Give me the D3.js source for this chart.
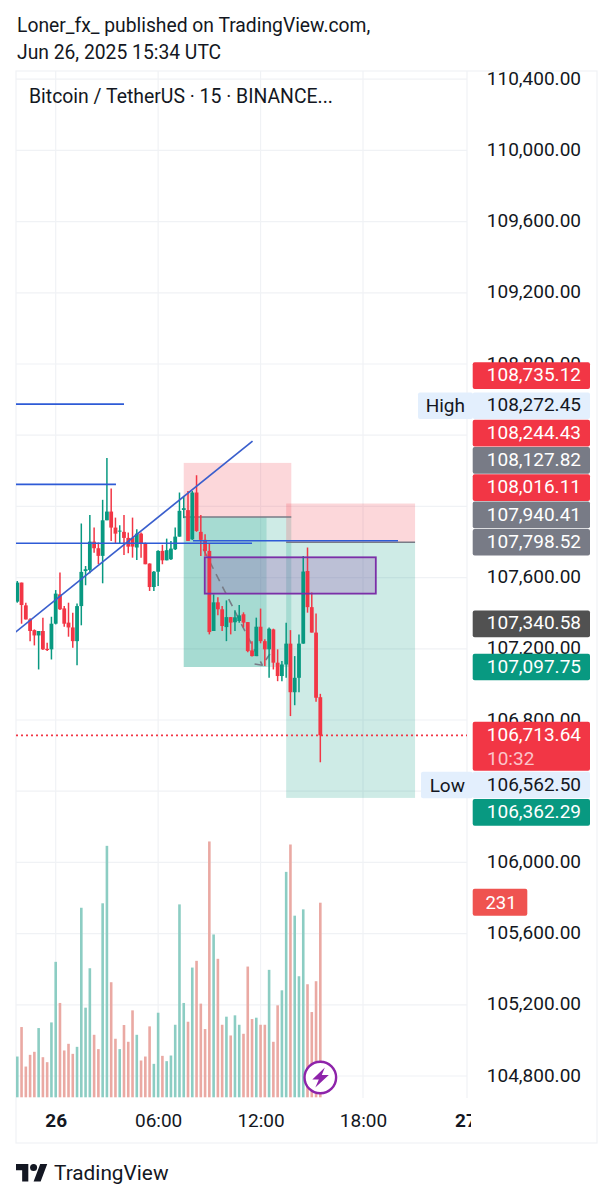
<!DOCTYPE html>
<html><head><meta charset="utf-8">
<script src="https://cdnjs.cloudflare.com/ajax/libs/d3/7.8.5/d3.min.js"></script>
<style>html,body{margin:0;padding:0;background:#fff}svg{display:block}text{font-family:Roboto,sans-serif}</style>
</head><body><svg id="c" width="613" height="1200"></svg>
<script>
// ---- data ----
const firstBarHour = -2.25, barHours = 0.25;
const opens  = [107465,107572,107444,107365,107305,107275,107300,107200,107197,107341,107506,107427,107347,107320,107243,107440,107637,107643,107802,107765,107722,107922,107971,107881,107859,107857,107823,107823,107769,107847,107791,107679,107547,107633,107750,107697,107703,107759,107830,107980,107979,107815,108078,107857,107812,107750,107300,107461,107422,107322,107378,107349,107356,107394,107350,107191,107159,107324,107243,107197,107309,107122,107047,107112,107229,106956,107037,107229,107637,107434,107291,106928];
const closes = [107572,107446,107365,107300,107275,107300,107197,107193,107341,107510,107422,107341,107320,107243,107440,107632,107647,107802,107765,107722,107922,107971,107881,107847,107864,107823,107774,107774,107847,107791,107675,107547,107633,107750,107697,107754,107763,107830,107975,107990,107806,108078,107862,107812,107750,107294,107461,107422,107328,107378,107347,107377,107388,107347,107187,107159,107324,107243,107197,107313,107122,107047,107112,107229,106956,107037,107229,107634,107434,107291,106925,106713.64];
const highs  = [107581,107572,107459,107371,107309,107300,107375,107234,107380,107530,107628,107440,107459,107403,107455,107904,107665,107952,107881,107797,108037,108272.45,108100,107937,107894,107952,107853,107937,107872,107853,107797,107680,107637,107754,107784,107819,107806,107881,108078,108059,108087,108087,108175,107952,107844,107793,107506,107489,107440,107472,107378,107416,107446,107405,107350,107243,107375,107426,107253,107319,107313,107197,107131,107347,107305,107159,107281,107722,107769,107516,107399,106947];
const lows   = [107459,107341,107365,107243,107219,107084,107193,107187,107140,107337,107418,107324,107268,107206,107108,107332,107557,107624,107740,107675,107568,107922,107806,107791,107791,107727,107737,107712,107699,107712,107675,107525,107525,107553,107675,107697,107699,107755,107830,107934,107806,107812,107857,107722,107722,107281,107300,107388,107300,107243,107281,107300,107347,107320,107180,107157,107159,107231,107103,107037,107084,107018,107018,107037,106822,106883,106956,107229,107403,107291,106902,106562.5];
const volumes = [48.4,83.4,36.5,50.4,54,82.2,47.6,41.7,88.9,160.8,112,55.6,63.5,51.6,59.9,225,106.4,153.2,74.2,57.2,230.3,298.5,136.6,69.5,57.2,85.8,65.9,103.2,74.2,43.7,48.4,84.2,39.7,100.4,49.2,42.9,49.6,86.1,229,112,89.7,154,162,111.2,81,303.7,193.3,164.4,86.1,95.7,73.4,97.3,86.1,75.4,155.2,92.9,94.5,86.1,86.1,151.3,65.9,109.2,127,267.6,300.1,215.6,143.7,223.1,134.2,101.2,137.8,231];
const gridPrices = [110400,110000,109600,109200,108800,108400,108000,107600,107200,106800,106400,106000,105600,105200,104800];
const axisPrices = [110400,110000,109600,109200,108800,107600,107200,106800,106000,105600,105200,104800];
const timeTicks = [0,6,12,18,24];
const timeLabels = ["26","06:00","12:00","18:00","27"];
const boldTimes = [0,24];
const hlineHours  = [[-2.4,4.0],[-2.4,3.53],[-2.4,11.5],[8.04,20.05]];
const hlinePrices = [108575,108124,107793,107807];
const trendHours = [-2.4,11.53];
const trendPrices = [107290,108367];
const zoneHours = [[7.5,13.8],[7.5,13.8],[7.5,12.35],[13.5,21.05],[13.5,21.05]];
const zoneTops = [108244.43,107940.41,107940.41,108016.11,107798.52];
const zoneBottoms = [107940.41,107097.75,107097.75,107798.52,106362.29];
const zoneKinds = ["stop","target","target","stop","target"];
const entryLinePrices = [107940.41,107798.52];
const entryLineHours = [[7.5,13.8],[13.5,21.05]];
const boxHours = [8.73,18.75];
const boxPrices = [107714,107510];
const zigHours = [[8.65,12.1],[11.65,12.1,12.55]];
const zigPrices = [[107760,107108],[107115,107108,107171]];
const tagPrices = [108735.12,108272.45,108244.43,108127.82,108016.11,107940.41,107798.52,107340.58,107097.75,106713.64,106562.50,106362.29];
const tagKinds  = ["red","pale","red","gray","red","gray","gray","dark","teal","last","pale","teal"];
const paleNames = {"108272.45":"High","106562.5":"Low"};
const lastPrice = 106713.64, countdown = "10:32", lastVolume = 231;

// ---- scales ----
const svg = d3.select("#c");
const x = d3.scaleLinear().domain([0,18]).range([55.7,363]);
const y = d3.scaleLinear().domain([104800,110000]).range([1076,150.4]);
const v = d3.scaleLinear().domain([0,lastVolume]).range([1097.3,902.7]);
const L=16,R=467,T=71,B=1098,RB=597,BB=1143;
const GRID="#F0F2F5",TEXT="#131722",UP="#089981",DN="#F23645";
const barHour = i => firstBarHour + i*barHours;
const fmt = d3.format(",.2f");

svg.append("defs").append("clipPath").attr("id","plot").append("rect").attr("x",L).attr("y",T).attr("width",R-L).attr("height",B-T);
svg.append("defs").append("clipPath").attr("id","timeclip").append("rect").attr("x",L).attr("y",B).attr("width",R+4-L).attr("height",BB-B);

// header
svg.append("text").attr("x",17).attr("y",31.5).attr("font-size",19.3).attr("fill",TEXT).text("Loner_fx_ published on TradingView.com,");
svg.append("text").attr("x",17).attr("y",58.5).attr("font-size",19.3).attr("fill",TEXT).text("Jun 26, 2025 15:34 UTC");

// frame & grid
const gg = svg.append("g").attr("stroke",GRID).attr("stroke-width",1.2);
gg.selectAll(".h").data(gridPrices).join("line").attr("x1",L).attr("x2",R).attr("y1",d=>y(d)).attr("y2",d=>y(d));
gg.selectAll(".v").data(timeTicks.slice(0,4)).join("line").attr("x1",d=>x(d)).attr("x2",d=>x(d)).attr("y1",T).attr("y2",B);
svg.append("rect").attr("x",L).attr("y",T).attr("width",RB-L).attr("height",BB-T).attr("fill","none").attr("stroke",GRID).attr("stroke-width",1.2);
svg.append("line").attr("x1",R).attr("x2",R).attr("y1",T).attr("y2",B).attr("stroke",GRID).attr("stroke-width",1.2);

const plot = svg.append("g").attr("clip-path","url(#plot)");
// position zones
plot.selectAll(".zone").data(zoneHours).join("rect")
  .attr("x",d=>x(d[0])).attr("width",d=>x(d[1])-x(d[0]))
  .attr("y",(d,i)=>y(zoneTops[i])).attr("height",(d,i)=>y(zoneBottoms[i])-y(zoneTops[i]))
  .attr("fill",(d,i)=>zoneKinds[i]==="stop"?DN:UP).attr("fill-opacity",.2);
// purple box fill
plot.append("rect").attr("x",x(boxHours[0])).attr("width",x(boxHours[1])-x(boxHours[0]))
  .attr("y",y(boxPrices[0])).attr("height",y(boxPrices[1])-y(boxPrices[0])).attr("fill","#8640A6").attr("fill-opacity",.25);
// volumes
plot.selectAll(".vol").data(volumes).join("rect")
  .attr("x",(d,i)=>x(barHour(i))-1.3).attr("width",2.6)
  .attr("y",d=>v(d)).attr("height",d=>v(0)-v(d))
  .attr("fill",(d,i)=>closes[i]>=opens[i]?"#8CCDC3":"#EAA9A3");
// entry lines
plot.selectAll(".entry").data(entryLinePrices).join("line")
  .attr("x1",(d,i)=>x(entryLineHours[i][0])).attr("x2",(d,i)=>x(entryLineHours[i][1]))
  .attr("y1",d=>y(d)).attr("y2",d=>y(d)).attr("stroke","#787B86").attr("stroke-width",1.5);
// zigzag
const lineGen = d3.line();
zigHours.forEach((hs,k)=>{
  plot.append("path").attr("d",lineGen(hs.map((h,i)=>[x(h),y(zigPrices[k][i])])))
   .attr("fill","none").attr("stroke","#787B86").attr("stroke-width",1.6).attr("stroke-dasharray","8 6");
});
// candles
const candle = plot.selectAll(".candle").data(opens).join("g");
candle.append("line").attr("x1",(d,i)=>x(barHour(i))).attr("x2",(d,i)=>x(barHour(i)))
  .attr("y1",(d,i)=>y(highs[i])).attr("y2",(d,i)=>y(lows[i]))
  .attr("stroke",(d,i)=>closes[i]>=opens[i]?UP:DN).attr("stroke-width",1.5);
candle.append("rect").attr("x",(d,i)=>x(barHour(i))-1.9).attr("width",3.8)
  .attr("y",(d,i)=>y(Math.max(opens[i],closes[i])))
  .attr("height",(d,i)=>Math.max(1,Math.abs(y(opens[i])-y(closes[i]))))
  .attr("fill",(d,i)=>closes[i]>=opens[i]?UP:DN);
// blue lines
plot.selectAll(".hl").data(hlinePrices).join("line")
  .attr("x1",(d,i)=>x(hlineHours[i][0])).attr("x2",(d,i)=>x(hlineHours[i][1]))
  .attr("y1",d=>y(d)).attr("y2",d=>y(d)).attr("stroke","#2E5BD6").attr("stroke-width",1.7);
plot.append("path").attr("d",lineGen(trendHours.map((h,i)=>[x(h),y(trendPrices[i])])))
  .attr("fill","none").attr("stroke","#3A5FCD").attr("stroke-width",1.7);
// purple box outline
plot.append("rect").attr("x",x(boxHours[0])).attr("width",x(boxHours[1])-x(boxHours[0]))
  .attr("y",y(boxPrices[0])).attr("height",y(boxPrices[1])-y(boxPrices[0])).attr("fill","none").attr("stroke","#7B2FA8").attr("stroke-width",1.8);
// last price line
plot.append("line").attr("x1",L).attr("x2",R).attr("y1",y(lastPrice)).attr("y2",y(lastPrice))
  .attr("stroke",DN).attr("stroke-width",1.7).attr("stroke-dasharray","2 3");

// legend
svg.append("text").attr("x",29).attr("y",102.5).attr("font-size",19.4).attr("fill",TEXT).text("Bitcoin / TetherUS · 15 · BINANCE...");

// price axis
const yAxis = d3.axisRight(y).tickValues(axisPrices).tickSize(0).tickPadding(0).tickFormat(fmt);
const ax = svg.append("g").attr("transform","translate(581,-1)").call(yAxis);
ax.select(".domain").remove();
ax.selectAll("text").attr("text-anchor","end").attr("font-size",19).attr("font-family","Roboto").attr("fill",TEXT);

// time axis
const xAxis = d3.axisBottom(x).tickValues(timeTicks).tickSize(0).tickPadding(0).tickFormat((d,i)=>timeLabels[i]);
const tx = svg.append("g").attr("clip-path","url(#timeclip)").append("g").attr("transform","translate(0,1113.5)").call(xAxis);
tx.select(".domain").remove();
tx.selectAll("text").attr("font-size",19).attr("font-family","Roboto").attr("fill",TEXT)
  .attr("font-weight",d=>boldTimes.includes(d)?700:400);

// price tags — stacked outward from the last price tag
const TAGH=27.3,LASTH=49,TX=472.7,TW=117.3;
const lastIdx = tagPrices.indexOf(lastPrice);
const tagCentre = tagPrices.map(p=>y(p));
const lastTop = tagCentre[lastIdx]-13.6;
for(let i=lastIdx-1,lim=lastTop;i>=0;i--){tagCentre[i]=Math.min(tagCentre[i],lim-TAGH/2);lim=tagCentre[i]-TAGH/2;}
for(let i=lastIdx+1,lim=lastTop+LASTH+.6;i<tagPrices.length;i++){tagCentre[i]=Math.max(tagCentre[i],lim+TAGH/2);lim=tagCentre[i]+TAGH/2;}
const tagFill={red:DN,gray:"#787B86",dark:"#515151",teal:UP,last:DN,pale:"#E3EFFD"};
const tags=svg.selectAll(".tag").data(tagPrices).join("g");
tags.append("rect").attr("x",TX).attr("width",TW).attr("rx",2)
  .attr("y",(d,i)=>tagKinds[i]==="last"?lastTop:tagCentre[i]-TAGH/2+.3)
  .attr("height",(d,i)=>tagKinds[i]==="last"?LASTH:TAGH-.6)
  .attr("fill",(d,i)=>tagFill[tagKinds[i]]);
tags.append("text").attr("x",581).attr("y",(d,i)=>tagCentre[i]-1).attr("dy","0.35em")
  .attr("text-anchor","end").attr("font-size",19)
  .attr("fill",(d,i)=>tagKinds[i]==="pale"?TEXT:"#fff").text(d=>fmt(d));
svg.append("text").attr("x",487).attr("y",tagCentre[lastIdx]+23).attr("dy","0.35em").attr("font-size",19).attr("fill","#FBC4CA").text(countdown);
// High / Low pills
const pales=tagPrices.map((p,i)=>({p,i})).filter(d=>paleNames[d.p]);
const pill=svg.selectAll(".pill").data(pales).join("g");
pill.append("rect").attr("x",d=>paleNames[d.p]==="High"?418:421).attr("width",d=>paleNames[d.p]==="High"?55:52).attr("rx",2)
  .attr("y",d=>tagCentre[d.i]-TAGH/2+.3).attr("height",TAGH-.6).attr("fill","#E3EFFD");
pill.append("text").attr("x",465).attr("y",d=>tagCentre[d.i]).attr("dy","0.35em").attr("text-anchor","end")
  .attr("font-size",19).attr("fill",TEXT).text(d=>paleNames[d.p]);
// volume tag
svg.append("rect").attr("x",TX).attr("y",v(lastVolume)-14).attr("width",54.6).attr("height",27).attr("rx",2).attr("fill","#EF5350");
svg.append("text").attr("x",501).attr("y",v(lastVolume)-.5).attr("dy","0.35em").attr("text-anchor","middle").attr("font-size",18.5).attr("fill","#fff").text(lastVolume);

// lightning badge
const badge=svg.append("g").attr("transform",`translate(${x(barHour(opens.length-1))},1077.5)`);
badge.append("circle").attr("r",15.8).attr("fill","#fff").attr("stroke","#8E24AA").attr("stroke-width",2.4);
badge.append("path").attr("d","M4.5,-10 L-8,2 L-1.5,2 L-5,10 L8.5,-2.5 L1.5,-2.5 Z").attr("fill","#8E24AA");

// logo
const logo=svg.append("g").attr("transform","translate(16,1158.7) scale(.88)").attr("fill",TEXT);
logo.append("path").attr("d","M14 6H0v7h7v13h7V6Zm14 20h-8l7.5-20h8L28 26Z");
logo.append("circle").attr("cx",20).attr("cy",10).attr("r",4);
svg.append("text").attr("x",54).attr("y",1180).attr("font-size",20.8).attr("fill",TEXT).text("TradingView");
</script></body></html>
